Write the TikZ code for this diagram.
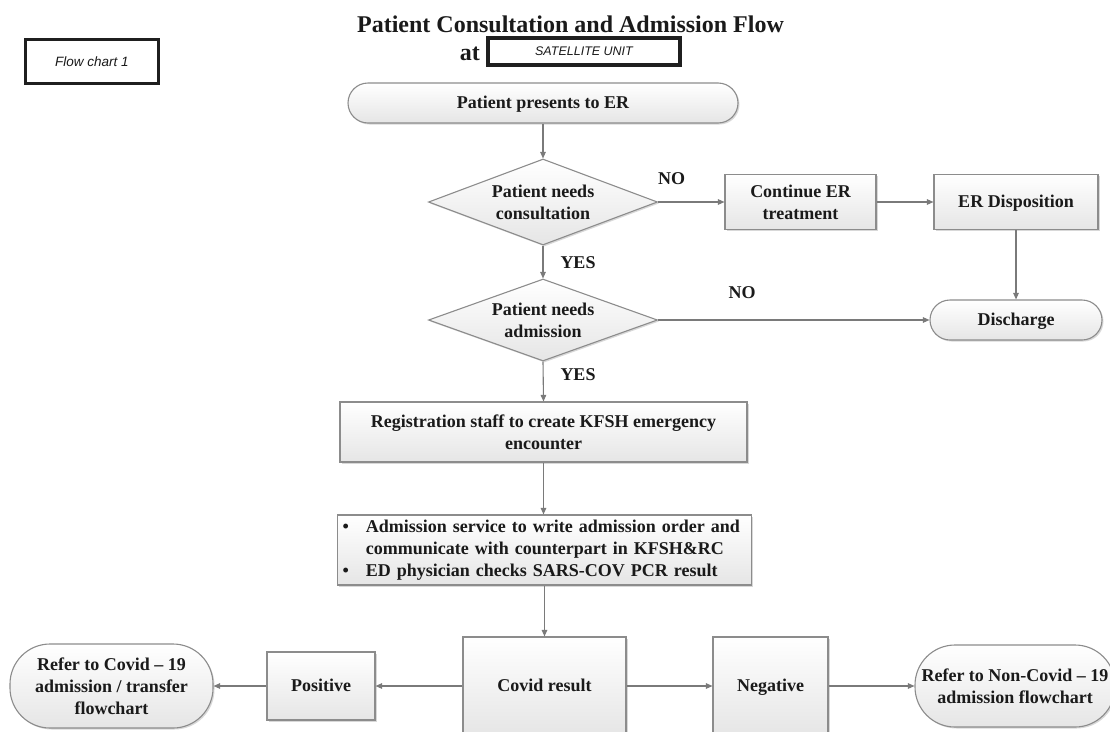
\documentclass[tikz,border=0pt]{standalone}
\usepackage{fontspec}
\setmainfont{Liberation Serif}
\newfontfamily\arialf{Liberation Sans}
\usetikzlibrary{shapes.geometric,arrows.meta,shadows}
\definecolor{edgegray}{HTML}{8C8C8C}
\definecolor{linegray}{HTML}{7A7A7A}
\definecolor{txt}{HTML}{1A1A1A}
\begin{document}
\begin{tikzpicture}[x=1pt,y=-1pt,
  nodefont/.style={font=\fontsize{18}{22}\selectfont\bfseries, text=txt},
  base/.style={nodefont, draw=edgegray, line width=1.1pt, top color=white, bottom color=black!10,
    drop shadow={shadow xshift=1.5pt, shadow yshift=-1.5pt, opacity=0.25, fill=black!60},
    inner sep=2pt, align=center},
  procbox/.style={base, rectangle},
  oneline/.style={text height=14pt, text depth=4pt},
  termbox/.style={base, rectangle, rounded corners=#1},
  decbox/.style={base, diamond, aspect=2.66, inner sep=0pt, minimum width=229, minimum height=86},
  framebox/.style={draw=black!88, line width=3.5pt, fill=white, text=txt, inner sep=0pt},
  lbl/.style={nodefont},
  flow/.style={draw=linegray, line width=1.1pt, -{Triangle[length=6.5pt,width=5.5pt]}},
]
\useasboundingbox (0,0) rectangle (1110,731);
\clip (0,0) rectangle (1110,731);
\fill[white] (0,0) rectangle (1110,731);

% header
\node[framebox, minimum width=133, minimum height=44, font=\arialf\itshape\fontsize{13.5}{16}\selectfont] (fc) at (92,61.5) {Flow chart 1};
\node[anchor=base, font=\fontsize{24}{28}\selectfont\bfseries, text=txt, inner sep=0pt] (title) at (570.5,32) {Patient Consultation and Admission Flow};
\node[framebox, minimum width=192, minimum height=27, font=\arialf\itshape\fontsize{12.5}{15}\selectfont] (sat) at (584,51.5) {SATELLITE UNIT};
\node[anchor=base east, font=\fontsize{24}{28}\selectfont\bfseries, text=txt, inner sep=0pt] (at) at (480,60) {at};

% main flow
\node[termbox=20pt, oneline, minimum width=390, minimum height=40] (start) at (543,103) {Patient presents to ER};
\node[decbox] (d1) at (543,202) {Patient needs\\consultation};
\node[procbox, minimum width=151, minimum height=55] (cont) at (800.5,202) {Continue ER\\treatment};
\node[procbox, oneline, minimum width=164, minimum height=55] (erd) at (1016,202) {ER Disposition};
\node[decbox, minimum height=82] (d2) at (543,320) {Patient needs\\admission};
\node[termbox=20pt, oneline, minimum width=172, minimum height=40] (dis) at (1016,320) {Discharge};
\node[procbox, minimum width=407, minimum height=60] (reg) at (543.5,432) {Registration staff to create KFSH emergency\\encounter};
\node[procbox, anchor=west, text width=404pt, inner xsep=5pt, inner ysep=2pt, minimum height=70, align=left] (adm) at (337,550)
  {\begin{tabular}{@{}l@{\hspace{17pt}}l@{}}
   \textbullet & Admission service to write admission order and\\
               & communicate with counterpart in KFSH\&RC\\
   \textbullet & ED physician checks SARS-COV PCR result
   \end{tabular}};
\node[procbox, oneline, minimum width=163, minimum height=98] (covid) at (544.5,686) {Covid result};
\node[procbox, oneline, minimum width=108, minimum height=68] (pos) at (321,686) {Positive};
\node[procbox, oneline, minimum width=115, minimum height=98] (neg) at (770.5,686) {Negative};
\node[termbox=40pt, minimum width=203, minimum height=84] (lref) at (111.5,686) {Refer to Covid -- 19\\admission / transfer\\flowchart};
\node[termbox=40pt, minimum width=200, minimum height=82] (rref) at (1015,686) {Refer to Non-Covid -- 19\\admission flowchart};

% labels
\node[lbl] (no1) at (671.5,179) {NO};
\node[lbl] (yes1) at (578,263) {YES};
\node[lbl] (no2) at (742,293) {NO};
\node[lbl] (yes2) at (578,375) {YES};

% connectors
\draw[flow] (start.south) -- (d1.north);
\draw[flow] (d1.east) -- (cont.west);
\draw[flow] (cont.east) -- (erd.west);
\draw[flow] (erd.south) -- (dis.north);
\draw[flow] (d1.south) -- (d2.north);
\draw[flow] (d2.east) -- (dis.west);
\draw[flow] (d2.south) -- (reg.north);
\draw[flow] (reg.south) -- (reg.south |- adm.north);
\draw[flow] (adm.south -| covid.north) -- (covid.north);
\draw[flow] (covid.west) -- (pos.east);
\draw[flow] (pos.west) -- (lref.east);
\draw[flow] (covid.east) -- (neg.west);
\draw[flow] (neg.east) -- (rref.west);
\end{tikzpicture}
\end{document}
